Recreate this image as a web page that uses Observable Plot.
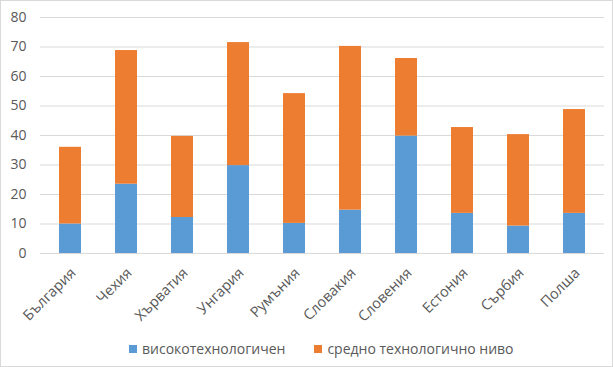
<!DOCTYPE html>
<html><head><meta charset="utf-8">
<script src="https://cdn.jsdelivr.net/npm/d3@7"></script>
<script src="https://cdn.jsdelivr.net/npm/@observablehq/plot@0.6"></script>
<style>
body{margin:0;background:#fff;font-family:"Open Sans",sans-serif;}
#chart{width:611px;height:365px;border:1px solid #d9d9d9;position:relative;overflow:hidden;}
#legend{position:absolute;top:338px;left:128px;display:flex;gap:29px;font-size:14px;line-height:20px;color:#595959;white-space:nowrap;}
#legend span.sw{display:inline-block;width:8px;height:8px;margin-right:5px;vertical-align:1px;}
</style></head>
<body><div id="chart"><div id="legend"></div></div>
<script>
const countries = ["България","Чехия","Хърватия","Унгария","Румъния","Словакия","Словения","Естония","Сърбия","Полша"];
const highTech = [10, 23.5, 12.2, 29.8, 10.2, 14.7, 39.8, 13.6, 9.3, 13.6];
const mediumTech = [26, 45.3, 27.5, 41.7, 44, 55.5, 26.3, 29.1, 31, 35.2];
const seriesNames = ["високотехнологичен","средно технологично ниво"];
const seriesColors = ["#5b9bd5","#ed7d31"];
const yTicks = [0,10,20,30,40,50,60,70,80];

const data = [];
countries.forEach((c,i)=>{
  data.push({country:c, series:seriesNames[0], value:highTech[i]});
  data.push({country:c, series:seriesNames[1], value:mediumTech[i]});
});

const chart = Plot.plot({
  width: 611, height: 330,
  marginTop: 16, marginBottom: 78, marginLeft: 39, marginRight: 8,
  style: {fontFamily: '"Open Sans", sans-serif', fontSize: "14px", color: "#595959", background: "transparent", overflow: "visible"},
  x: {domain: countries, paddingInner: 0.61, paddingOuter: 0.305, label: null},
  y: {domain: [0,80], label: null},
  color: {domain: seriesNames, range: seriesColors},
  marks: [
    Plot.gridY(yTicks, {stroke: "#d9d9d9", strokeOpacity: 1, strokeWidth: 1}),
    Plot.barY(data, Plot.stackY({x: "country", y: "value", fill: "series", order: seriesNames})),
    Plot.axisY(yTicks, {tickSize: 0, tickPadding: 14, label: null, fontSize: 14}),
    Plot.axisX({tickSize: 0, tickRotate: -45, tickPadding: 6, dx: 3, dy: 11, label: null, fontSize: 14.5}),
    Plot.ruleY([0], {stroke: "#d9d9d9"})
  ]
});
document.getElementById("chart").insertBefore(chart, document.getElementById("legend"));
const lg = document.getElementById("legend");
seriesNames.forEach((s,i)=>{
  const d = document.createElement("div");
  d.innerHTML = `<span class="sw" style="background:${seriesColors[i]}"></span>${s}`;
  lg.appendChild(d);
});
</script></body></html>
